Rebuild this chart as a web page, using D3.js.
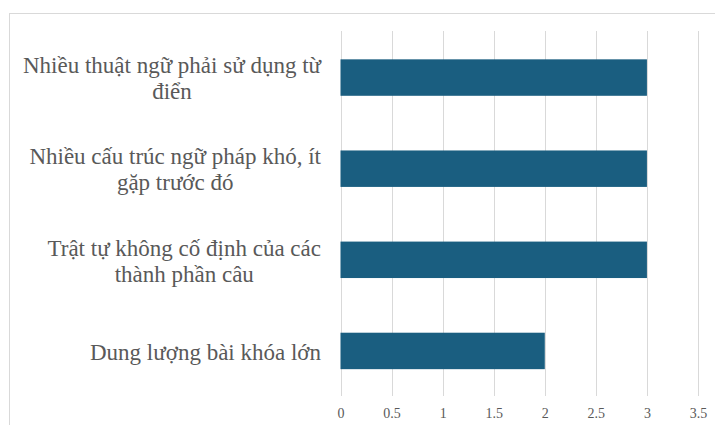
<!DOCTYPE html>
<html>
<head>
<meta charset="utf-8">
<script src="https://cdn.jsdelivr.net/npm/d3@7"></script>
<style>
  html, body { margin: 0; padding: 0; background: #fff; }
  svg { display: block; }
</style>
</head>
<body>
<svg id="chart" width="715" height="425"></svg>
<script>
const categories = [
  "Nhiều thuật ngữ phải sử dụng từ điển",
  "Nhiều cấu trúc ngữ pháp khó, ít gặp trước đó",
  "Trật tự không cố định của các thành phần câu",
  "Dung lượng bài khóa lớn"
];
const values = [3, 3, 3, 2];
const tickValues = [0, 0.5, 1, 1.5, 2, 2.5, 3, 3.5];

const svg = d3.select("#chart");
const W = 715, H = 425;
const serif = "'Liberation Serif', 'Times New Roman', serif";

// outer frame
svg.append("rect")
  .attr("x", 9.5).attr("y", 13.5)
  .attr("width", W + 10).attr("height", H + 10)
  .attr("fill", "#fff").attr("stroke", "#d9d9d9").attr("stroke-width", 1);

const x = d3.scaleLinear().domain([0, 3.5]).range([340.5, 698]);
const y = d3.scaleBand().domain(categories).range([32, 396.5]).paddingInner(0.6).paddingOuter(0.3);

// gridlines
const grid = svg.append("g").attr("class", "grid");
grid.selectAll("line").data(tickValues).join("line")
  .attr("x1", d => Math.round(x(d)) + 0.5)
  .attr("x2", d => Math.round(x(d)) + 0.5)
  .attr("y1", 31).attr("y2", 396)
  .attr("stroke", "#d9d9d9").attr("stroke-width", 1);

// bars
svg.append("g").selectAll("rect").data(categories).join("rect")
  .attr("x", x(0))
  .attr("y", d => y(d))
  .attr("width", (d, i) => x(values[i]) - x(0))
  .attr("height", y.bandwidth())
  .attr("fill", "#1a5e80");

// x axis
const xAxis = d3.axisBottom(x).tickValues(tickValues).tickSize(0).tickPadding(0)
  .tickFormat(d => String(d));
const gx = svg.append("g").attr("transform", "translate(0,408)").call(xAxis);
gx.select(".domain").remove();
gx.selectAll("text")
  .attr("font-family", serif)
  .attr("font-size", 14).attr("fill", "#595959");

// y axis labels (wrapped, centered)
const yAxis = d3.axisLeft(y).tickSize(0).tickPadding(0);
const gy = svg.append("g").call(yAxis);
gy.select(".domain").remove();
gy.selectAll(".tick text").remove();

const fontSize = 23, lineH = 26, maxW = 310, rightEdge = 321;
const measure = svg.append("text")
  .attr("font-family", serif)
  .attr("font-size", fontSize).attr("visibility", "hidden");
function width(s) { measure.text(s); return measure.node().getComputedTextLength(); }
function wrap(s) {
  const words = s.split(" ");
  const lines = [];
  let cur = "";
  words.forEach(w => {
    const t = cur ? cur + " " + w : w;
    if (width(t) > maxW && cur) { lines.push(cur); cur = w; }
    else cur = t;
  });
  if (cur) lines.push(cur);
  return lines;
}

gy.selectAll(".tick").each(function(d) {
  const lines = wrap(d);
  const blockW = d3.max(lines, width);
  const cx = rightEdge - blockW / 2;
  const t = d3.select(this).append("text")
    .attr("font-family", serif)
    .attr("font-size", fontSize).attr("fill", "#595959")
    .attr("text-anchor", "middle");
  const y0 = -(lines.length - 1) * lineH / 2;
  lines.forEach((l, i) => {
    t.append("tspan").attr("x", cx).attr("y", y0 + i * lineH).attr("dy", "0.38em").text(l);
  });
});
measure.remove();
</script>
</body>
</html>
